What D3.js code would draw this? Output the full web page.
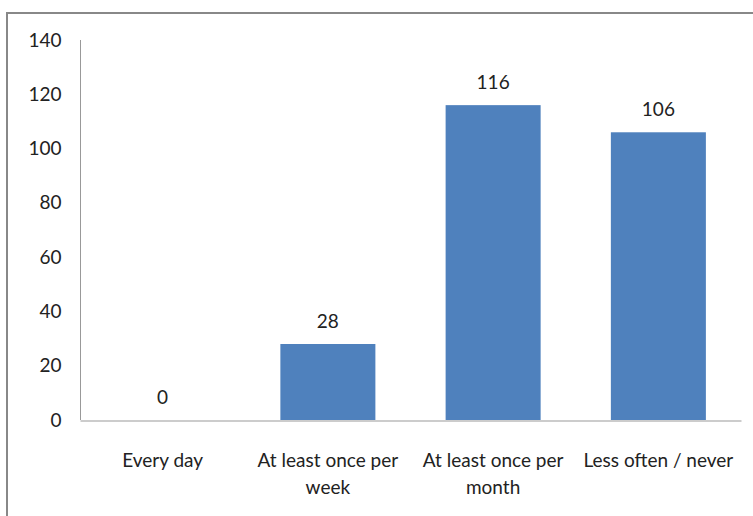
<!DOCTYPE html>
<html><head><meta charset="utf-8">
<script src="https://cdn.jsdelivr.net/npm/d3@7"></script>
<style>body{margin:0;background:#fff;}svg{display:block;}</style>
</head><body>
<svg id="c" width="753" height="516"></svg>
<script>
const categories = [["Every day"], ["At least once per", "week"], ["At least once per", "month"], ["Less often / never"]];
const categoryKeys = ["Every day", "At least once per week", "At least once per month", "Less often / never"];
const values = [0, 28, 116, 106];
const yTicks = [0, 20, 40, 60, 80, 100, 120, 140];

const svg = d3.select("#c");
const font = "Lato, 'Open Sans', sans-serif";
const fs = 19;
// frame
svg.append("rect").attr("x", 7).attr("y", 13).attr("width", 760).attr("height", 520)
  .attr("fill", "none").attr("stroke", "#888").attr("stroke-width", 2);

const x = d3.scaleBand().domain(categoryKeys).range([80, 741]).paddingInner(0.425).paddingOuter(0.2125);
const y = d3.scaleLinear().domain([0, 140]).range([420, 40]);

// y axis
const ya = svg.append("g").attr("transform", "translate(80.5,0)")
  .call(d3.axisLeft(y).tickValues(yTicks).tickSize(0).tickPadding(19));
ya.select(".domain").attr("stroke", "#999").attr("d", "M0,40V420");
ya.selectAll("text").attr("font-family", font).attr("font-size", fs).attr("fill", "#222");

// bars
svg.selectAll("rect.bar").data(values).join("rect").attr("class", "bar")
  .attr("x", (d, i) => x(categoryKeys[i]))
  .attr("width", x.bandwidth())
  .attr("y", d => y(d))
  .attr("height", d => y(0) - y(d))
  .attr("fill", "#4F81BD");

// x axis
const xa = svg.append("g").attr("transform", "translate(0,420.5)")
  .call(d3.axisBottom(x).tickSize(0).tickFormat(""));
xa.select(".domain").attr("stroke", "#999");

categories.forEach((lines, i) => {
  const cx = x(categoryKeys[i]) + x.bandwidth() / 2;
  const t = svg.append("text").attr("x", cx).attr("y", 467).attr("text-anchor", "middle")
    .attr("font-family", font).attr("font-size", fs).attr("fill", "#222");
  lines.forEach((l, j) => t.append("tspan").attr("x", cx).attr("dy", j ? 27 : 0).text(l));
});

// value labels
svg.selectAll("text.val").data(values).join("text").attr("class", "val")
  .attr("x", (d, i) => x(categoryKeys[i]) + x.bandwidth() / 2)
  .attr("y", d => y(d) - 16)
  .attr("text-anchor", "middle")
  .attr("font-family", font).attr("font-size", fs).attr("fill", "#222")
  .text(d => d);
</script>
</body></html>
